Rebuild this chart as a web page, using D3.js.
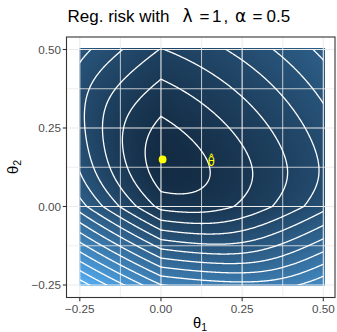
<!DOCTYPE html>
<html><head><meta charset="utf-8">
<script src="https://cdn.jsdelivr.net/npm/d3@7"></script>
<style>
body{margin:0;background:#fff}
svg{display:block}
text{font-family:"Liberation Sans",Arial,Helvetica,sans-serif}
</style>
</head><body><div id="chart"></div>
<script>
// ---------------- data ----------------
const lambda = 1;
const alpha = 0.5;
const thetaLimits = [-0.25, 0.5];
const xTicks = [-0.25, 0, 0.25, 0.5];
const yTicks = [-0.25, 0, 0.25, 0.5];
const tickLabels = ["\u22120.25", "0.00", "0.25", "0.50"];
const minorBreaks = [-0.125, 0.125, 0.375];
// empirical-risk terms (soft ramps): weight, sharpness, direction (theta1, theta2), offset
const termWeight = [0.9, 1.0, 0.8, 0.5];
const termSharp  = [25, 15, 3, 3];
const termDir1   = [0, -1, 0.5, -0.7];
const termDir2   = [-1, -1.0, -1, 0.7];
const termOffset = [-0.077, -0.115, 0.185, 0.248];
const contourFirst = 0.047;   // first contour above the minimum
const contourStep = 0.08;
const regMin = [0.005, 0.15];     // yellow point (regularized minimizer)
const thetaHat = [0.155, 0.153];  // unregularized estimate label

// ---------------- model ----------------
function softplus(v){ return v > 0 ? v + Math.log1p(Math.exp(-v)) : Math.log1p(Math.exp(v)); }
function empRisk(t1, t2){
  let L = 0;
  for (let j = 0; j < termWeight.length; j++){
    const k = termSharp[j];
    L += termWeight[j] / k * softplus(k * (termDir1[j]*t1 + termDir2[j]*t2 - termOffset[j]));
  }
  return L;
}
function regRisk(t1, t2){
  return empRisk(t1, t2) + lambda * (alpha * (Math.abs(t1) + Math.abs(t2)) + (1 - alpha) / 2 * (t1*t1 + t2*t2));
}

// ---------------- layout ----------------
const W = 337, H = 332;
const panel = {left: 66.5, right: 335, top: 37, bottom: 297.5};
const x = d3.scaleLinear().domain([-0.25, 0.5]).range([79.8, 323.3]);
const y = d3.scaleLinear().domain([-0.25, 0.5]).range([285, 49.5]);

const svg = d3.select("#chart").append("svg").attr("width", W).attr("height", H);
svg.append("rect").attr("width", W).attr("height", H).attr("fill", "#fff");

// raster grid
const rStep = 0.0075;
const nR = Math.round((thetaLimits[1] - thetaLimits[0]) / rStep) + 1;
const cells = [];
for (let j = 0; j < nR; j++) for (let i = 0; i < nR; i++){
  const t1 = thetaLimits[0] + i * rStep, t2 = thetaLimits[0] + j * rStep;
  cells.push({t1, t2, r: regRisk(t1, t2)});
}
const rExt = d3.extent(cells, d => d.r);
const fill = d3.scaleLinear().domain(rExt).range(["#132B43", "#56B1F7"]).interpolate(d3.interpolateLab);

const defs = svg.append("defs");
defs.append("clipPath").attr("id", "panelClip").append("rect")
  .attr("x", panel.left).attr("y", panel.top)
  .attr("width", panel.right - panel.left).attr("height", panel.bottom - panel.top);
defs.append("clipPath").attr("id", "gridClip").append("rect")
  .attr("x", x(thetaLimits[0])).attr("y", y(thetaLimits[1]))
  .attr("width", x(thetaLimits[1]) - x(thetaLimits[0])).attr("height", y(thetaLimits[0]) - y(thetaLimits[1]));

const gPanel = svg.append("g").attr("clip-path", "url(#panelClip)");
gPanel.append("rect").attr("x", panel.left).attr("y", panel.top)
  .attr("width", panel.right - panel.left).attr("height", panel.bottom - panel.top).attr("fill", "#fff");

const px0 = d => Math.round(x(d.t1 - rStep/2)), px1 = d => Math.round(x(d.t1 + rStep/2));
const py0 = d => Math.round(y(d.t2 + rStep/2)), py1 = d => Math.round(y(d.t2 - rStep/2));
gPanel.append("g").attr("shape-rendering", "crispEdges").selectAll("rect").data(cells).join("rect")
  .attr("x", px0).attr("y", py0)
  .attr("width", d => px1(d) - px0(d))
  .attr("height", d => py1(d) - py0(d))
  .attr("fill", d => fill(d.r));

// grid lines (on top of the raster)
const gGrid = gPanel.append("g").attr("stroke", "#EBEBEB").attr("fill", "none");
minorBreaks.forEach(v => {
  gGrid.append("line").attr("x1", x(v)).attr("x2", x(v)).attr("y1", panel.top).attr("y2", panel.bottom).attr("stroke-width", 0.8);
  gGrid.append("line").attr("y1", y(v)).attr("y2", y(v)).attr("x1", panel.left).attr("x2", panel.right).attr("stroke-width", 0.8);
});
xTicks.forEach(v => gGrid.append("line").attr("x1", x(v)).attr("x2", x(v)).attr("y1", panel.top).attr("y2", panel.bottom).attr("stroke-width", 1.1));
yTicks.forEach(v => gGrid.append("line").attr("y1", y(v)).attr("y2", y(v)).attr("x1", panel.left).attr("x2", panel.right).attr("stroke-width", 1.1));

// contours
const cStep = 0.0025, cLo = -0.3, nC = 341;
const cVals = new Float64Array(nC * nC);
for (let j = 0; j < nC; j++) for (let i = 0; i < nC; i++) cVals[j*nC + i] = regRisk(cLo + i*cStep, cLo + j*cStep);
const levels = d3.range(rExt[0] + contourFirst, d3.max(cVals), contourStep);
const contours = d3.contours().size([nC, nC]).thresholds(levels)(cVals);
const proj = d3.geoTransform({point: function(px, py){
  this.stream.point(x(cLo + (px - 0.5) * cStep), y(cLo + (py - 0.5) * cStep));
}});
const path = d3.geoPath(proj);
gPanel.append("g").attr("clip-path", "url(#gridClip)").selectAll("path").data(contours).join("path")
  .attr("d", path).attr("fill", "none").attr("stroke", "#fff").attr("stroke-width", 1.3);

// regularized minimum and theta-hat label
gPanel.append("circle").attr("cx", x(regMin[0])).attr("cy", y(regMin[1])).attr("r", 3.9).attr("fill", "#FFFF00");
gPanel.append("text").attr("x", x(thetaHat[0])).attr("y", y(thetaHat[1]) + 7.6)
  .attr("fill", "#FFFF00").attr("text-anchor", "middle").attr("font-size", 11.5)
  .style("font-family", "'DejaVu Sans', sans-serif").text("\u03B8\u0302");

// panel border
svg.append("rect").attr("x", panel.left).attr("y", panel.top)
  .attr("width", panel.right - panel.left).attr("height", panel.bottom - panel.top)
  .attr("fill", "none").attr("stroke", "#333333").attr("stroke-width", 1.1);

// axes
const axCol = "#333333", txtCol = "#4D4D4D";
xTicks.forEach((v, k) => {
  svg.append("line").attr("x1", x(v)).attr("x2", x(v)).attr("y1", panel.bottom).attr("y2", panel.bottom + 3.7).attr("stroke", axCol).attr("stroke-width", 1.1);
  svg.append("text").attr("x", x(v)).attr("y", 313).attr("text-anchor", "middle").attr("font-size", 11.7).attr("fill", txtCol).text(tickLabels[k]);
});
yTicks.forEach((v, k) => {
  svg.append("line").attr("y1", y(v)).attr("y2", y(v)).attr("x1", panel.left - 3.7).attr("x2", panel.left).attr("stroke", axCol).attr("stroke-width", 1.1);
  svg.append("text").attr("x", 61).attr("y", y(v) + 4.1).attr("text-anchor", "end").attr("font-size", 11.7).attr("fill", txtCol).text(tickLabels[k]);
});

// axis titles
const xt = svg.append("text").attr("x", 200).attr("y", 328).attr("text-anchor", "middle").attr("font-size", 14.7).attr("fill", "#000");
xt.append("tspan").text("\u03B8");
xt.append("tspan").attr("font-size", 10.5).attr("dy", 3).text("1");
const yt = svg.append("text").attr("transform", "translate(17.5,167) rotate(-90)").attr("text-anchor", "middle").attr("font-size", 14.7).attr("fill", "#000");
yt.append("tspan").text("\u03B8");
yt.append("tspan").attr("font-size", 10.5).attr("dy", 3).text("2");

// title
const title = svg.append("text").attr("font-size", 17).attr("fill", "#000").attr("y", 22);
[["Reg. risk with", 67.5, false], ["\u03BB", 182.5, true], ["=", 199.5, false], ["1", 212, false], [",", 223.5, false],
 ["\u03B1", 235, true], ["=", 252.5, false], ["0.5", 266.5, false]]
  .forEach(([s, px, greek]) => {
    const t = title.append("tspan").attr("x", px).text(s);
    if (greek) t.style("font-family", "'DejaVu Sans', sans-serif");
  });
</script>
</body></html>
